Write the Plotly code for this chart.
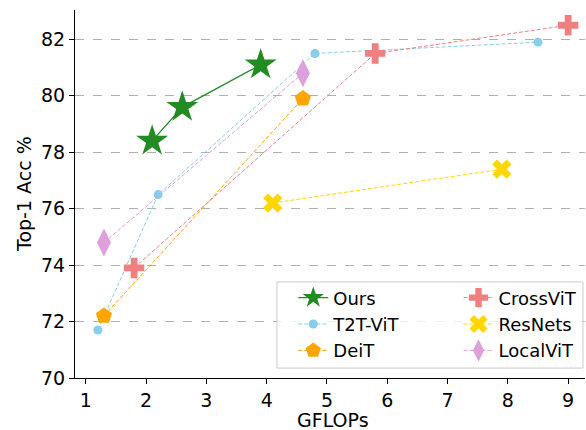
import plotly.graph_objects as go

ours_x = [2.1, 2.6, 3.9]
ours_y = [78.4, 79.6, 81.1]
t2t_x = [1.2, 2.2, 4.8, 8.5]
t2t_y = [71.7, 76.5, 81.5, 81.9]
deit_x = [1.3, 4.6]
deit_y = [72.2, 79.9]
cross_x = [1.8, 5.8, 9.0]
cross_y = [73.9, 81.5, 82.5]
res_x = [4.1, 7.9]
res_y = [76.2, 77.4]
local_x = [1.3, 4.6]
local_y = [74.8, 80.8]

x_ticks = [1, 2, 3, 4, 5, 6, 7, 8, 9]
y_ticks = [70, 72, 74, 76, 78, 80, 82]

series = [
    ("Ours", ours_x, ours_y, "#228B22", "solid", "star", 24, 1.3, "legend", 1),
    ("T2T-ViT", t2t_x, t2t_y, "#87CEEB", "dash", "circle", 9, 1.0, "legend", 2),
    ("DeiT", deit_x, deit_y, "#FFA500", "dash", "pentagon", 17, 1.0, "legend", 3),
    ("CrossViT", cross_x, cross_y, "#F08080", "dash", "cross", 17, 1.0, "legend2", 1),
    ("ResNets", res_x, res_y, "#FFD700", "dash", "x", 17, 1.0, "legend2", 2),
    ("LocalViT", local_x, local_y, "#DDA0DD", "dash", "diamond-tall", 20, 1.0, "legend2", 3),
]

fig = go.Figure()
for name, xs, ys, col, dash, sym, sz, lw, lg, rank in series:
    fig.add_trace(go.Scatter(
        x=xs, y=ys, name=name, mode="lines+markers",
        line=dict(color=col, width=lw, dash="solid" if dash == "solid" else "4px,2px"),
        marker=dict(color=col, symbol=sym, size=sz, line=dict(width=0)),
        legend=lg, legendrank=rank,
    ))

legend_common = dict(
    bgcolor="rgba(0,0,0,0)", borderwidth=0, font=dict(size=18),
    traceorder="normal", itemsizing="trace", xanchor="left", yanchor="top",
    tracegroupgap=0,
)

fig.update_layout(
    width=586, height=430,
    margin=dict(l=75, r=1, t=10, b=52),
    paper_bgcolor="white", plot_bgcolor="white",
    font=dict(family="DejaVu Sans", size=19, color="black"),
    showlegend=True,
    legend=dict(x=0.428, y=0.268, **legend_common),
    legend2=dict(x=0.752, y=0.268, **legend_common),
    shapes=[dict(
        type="rect", xref="paper", yref="paper",
        x0=0.396, x1=0.996, y0=0.027, y1=0.261,
        line=dict(color="#cccccc", width=1),
        fillcolor="rgba(255,255,255,0.8)", layer="above",
    )],
    annotations=[
        dict(text="GFLOPs", xref="paper", yref="paper", x=0.506, y=-0.114,
             xanchor="center", yanchor="middle", showarrow=False,
             font=dict(size=19)),
        dict(text="Top-1 Acc %", xref="paper", yref="paper", x=-0.100, y=0.5,
             xanchor="center", yanchor="middle", showarrow=False, textangle=-90,
             font=dict(size=19)),
    ],
    xaxis=dict(
        range=[0.82, 9.28], tickvals=x_ticks, showgrid=False, zeroline=False,
        showline=True, linecolor="black", linewidth=1.2, ticks="outside",
        ticklen=5, tickcolor="black", automargin=False,
        tickfont=dict(size=19),
    ),
    yaxis=dict(
        range=[70, 83.04], tickvals=y_ticks, showgrid=True,
        gridcolor="#b0b0b0", griddash="dash", gridwidth=1, zeroline=False,
        showline=True, linecolor="black", linewidth=1.2, ticks="outside",
        ticklen=5, tickcolor="black", automargin=False,
        tickfont=dict(size=19),
    ),
)

fig.write_html(
    "out.html",
    config={"displayModeBar": False},
    post_script="document.body.style.margin='0';document.body.style.padding='0';document.body.style.overflow='hidden';",
)
